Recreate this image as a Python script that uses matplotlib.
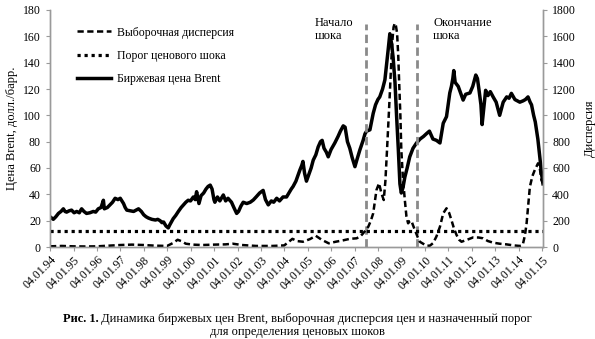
import numpy as np
import matplotlib
matplotlib.use("Agg")
import matplotlib.pyplot as plt

plt.rcParams['font.family'] = ['Liberation Serif', 'DejaVu Serif']
plt.rcParams['font.size'] = 8.5

# Brent price, USD/bbl (time in fractional years)
price_t = [1994.00, 1994.07, 1994.14, 1994.25, 1994.36, 1994.47, 1994.57, 1994.64, 1994.71, 1994.82,
           1994.92, 1995.03, 1995.14, 1995.25, 1995.35, 1995.45, 1995.56, 1995.70, 1995.85, 1995.95,
           1996.06, 1996.18, 1996.28, 1996.32, 1996.45, 1996.56, 1996.67, 1996.78, 1996.90, 1997.00,
           1997.07, 1997.14, 1997.21, 1997.28, 1997.42, 1997.57, 1997.68, 1997.78, 1997.90, 1998.00,
           1998.10, 1998.20, 1998.35, 1998.50, 1998.60, 1998.70, 1998.78, 1998.85, 1998.95, 1999.05,
           1999.12, 1999.26, 1999.37, 1999.48, 1999.60, 1999.70, 1999.80, 1999.90, 2000.00, 2000.12,
           2000.20, 2000.26, 2000.36, 2000.45, 2000.56, 2000.66, 2000.75, 2000.84, 2000.92, 2001.00,
           2001.04, 2001.15, 2001.25, 2001.40, 2001.50, 2001.60, 2001.75, 2001.85, 2001.97, 2002.05,
           2002.15, 2002.25, 2002.40, 2002.55, 2002.68, 2002.80, 2002.95, 2003.10, 2003.20, 2003.32,
           2003.45, 2003.55, 2003.68, 2003.80, 2003.95, 2004.10, 2004.20, 2004.30, 2004.38, 2004.50,
           2004.60, 2004.67, 2004.75, 2004.80, 2004.87, 2004.95, 2005.05, 2005.15, 2005.24, 2005.35,
           2005.45, 2005.55, 2005.62, 2005.70, 2005.80, 2005.88, 2006.00, 2006.16, 2006.30, 2006.40,
           2006.52, 2006.60, 2006.70, 2006.80, 2006.90, 2007.02, 2007.10, 2007.23, 2007.37, 2007.45,
           2007.52, 2007.66, 2007.80, 2007.90, 2008.00, 2008.08, 2008.20, 2008.30, 2008.38, 2008.44,
           2008.51, 2008.58, 2008.65, 2008.73, 2008.80, 2008.87, 2008.94, 2009.00, 2009.07, 2009.15,
           2009.25, 2009.36, 2009.50, 2009.65, 2009.80, 2009.95, 2010.07, 2010.20, 2010.35, 2010.50,
           2010.65, 2010.79, 2010.93, 2011.07, 2011.14, 2011.20, 2011.24, 2011.30, 2011.43, 2011.55,
           2011.64, 2011.75, 2011.93, 2012.05, 2012.18, 2012.25, 2012.32, 2012.40, 2012.45, 2012.52,
           2012.60, 2012.70, 2012.80, 2012.92, 2013.05, 2013.20, 2013.35, 2013.50, 2013.60, 2013.70,
           2013.85, 2014.06, 2014.20, 2014.30, 2014.41, 2014.50, 2014.56, 2014.65, 2014.72, 2014.77,
           2014.83, 2014.88, 2014.94, 2014.98, 2015.02, 2015.05]
price_v = [23, 22, 21, 23, 25.5, 27, 29, 27, 26.5, 27.5,
           28, 26, 27, 26, 29, 27, 25.5, 26, 27, 26.5,
           29, 30, 35.5, 29, 30, 32, 34, 37, 36, 37,
           35, 33, 30, 28, 27.5, 27, 28, 29, 27, 24.5,
           23, 22, 21, 20.5, 21, 20, 18.5, 19, 16, 14.5,
           17, 21.5, 24, 27, 30, 32, 34, 35.5, 35, 38,
           36, 42, 33, 39, 41, 44, 46, 47, 44, 36,
           34, 38, 35, 39.5, 35, 37, 34, 30, 25.5, 27,
           31, 34, 33, 34, 35.7, 38, 41, 43, 36, 32,
           35, 34, 37, 35, 38, 38, 41, 44, 46, 50,
           55, 58.5, 62, 65, 56, 50, 55, 60, 66, 70,
           76, 80, 81, 75, 72, 68.5, 74, 79, 84, 88,
           92, 91, 80, 75, 68, 61, 66, 73.7, 81, 86,
           88, 89, 101.5, 108, 112, 114, 120, 127, 140, 150,
           162, 155, 144, 125, 99, 75, 48, 41, 45, 53,
           60, 68.5, 75, 79, 82, 84, 86, 88, 82, 81,
           79, 94, 99, 117, 122, 128, 134, 125, 122, 116,
           111.6, 116, 117, 122, 130.6, 128, 119, 108, 93, 105,
           119, 115, 118, 114, 110, 100, 110, 114, 113, 116.7,
           112, 110, 111, 112, 114, 110, 108, 100, 95, 89,
           82, 74, 64, 56, 52, 48]

# sample variance of price (right axis)
var_t = [1994.00, 1994.50, 1995.00, 1995.50, 1996.00, 1996.50, 1997.00, 1997.50, 1998.00, 1998.50,
         1999.00, 1999.25, 1999.45, 1999.60, 1999.80, 2000.10, 2000.50, 2001.00, 2001.50, 2001.80,
         2002.20, 2002.80, 2003.50, 2004.00, 2004.20, 2004.35, 2004.55, 2004.80, 2005.10, 2005.35,
         2005.60, 2005.90, 2006.20, 2006.50, 2006.80, 2007.09, 2007.25, 2007.37, 2007.49, 2007.59,
         2007.70, 2007.80, 2007.94, 2008.05, 2008.15, 2008.25, 2008.32, 2008.39, 2008.45, 2008.51,
         2008.57, 2008.62, 2008.67, 2008.72, 2008.77, 2008.82, 2008.87, 2008.91, 2008.96, 2009.00,
         2009.07, 2009.15, 2009.22, 2009.29, 2009.36, 2009.43, 2009.50, 2009.58, 2009.70, 2009.79,
         2009.93, 2010.07, 2010.22, 2010.36, 2010.50, 2010.65, 2010.79, 2010.93, 2011.04, 2011.14,
         2011.25, 2011.36, 2011.47, 2011.57, 2011.78, 2012.07, 2012.30, 2012.49, 2012.70, 2012.92,
         2013.20, 2013.49, 2013.80, 2014.06, 2014.15, 2014.20, 2014.28, 2014.35, 2014.42, 2014.49,
         2014.60, 2014.70, 2014.84, 2014.92, 2014.98, 2015.05]
var_v = [5, 8, 5, 4, 5, 10, 15, 18, 15, 10,
         8, 30, 55, 45, 25, 18, 15, 18, 20, 25,
         15, 8, 8, 12, 40, 62, 45, 40, 60, 85,
         55, 28, 40, 50, 62, 66, 80, 104, 130, 154,
         200, 256, 433, 484, 408, 357, 500, 737, 950, 1167,
         1400, 1572, 1670, 1699, 1680, 1623, 1450, 1243, 1000, 737,
         520, 357, 230, 180, 195, 200, 165, 129, 75, 40,
         25, 10, 10, 30, 80, 154, 256, 294, 260, 205,
         140, 91, 55, 40, 53, 73, 72, 66, 45, 33,
         25, 20, 12, 8, 12, 28, 90, 180, 320, 458,
         540, 585, 636, 590, 509, 484]

threshold = 120
shock_start = 2007.49
shock_end = 2009.65

years = list(range(1994, 2016))
year_labels = ['04.01.%02d' % (y % 100) for y in years]

fig = plt.figure(figsize=(5.95, 3.39), dpi=100)
ax = fig.add_axes([50/595, 1-247/339, 493/595, 237/339])
ax2 = ax.twinx()

ln_p, = ax.plot(price_t, price_v, color='black', lw=2.5, label='Биржевая цена Brent')
ln_v, = ax2.plot(var_t, var_v, color='black', lw=1.8, ls=(0, (2.5, 1.4)),
                 label='Выборочная дисперсия')
ln_t, = ax2.plot([1994.0, 2015.05], [threshold, threshold], color='black', lw=2.3,
                 ls=(0, (1, 1.2)), label='Порог ценового шока')

for xv in (shock_start, shock_end):
    ax.axvline(xv, ymin=0, ymax=0.94, color='#8a8a8a', lw=2, ls=(0, (3, 1.6)))

ax.text(2005.3, 175, 'Начало\nшока', va='top', ha='left', fontsize=9, linespacing=1.15)
ax.text(2010.36, 175, 'Окончание\nшока', va='top', ha='left', fontsize=9, linespacing=1.15)

ax.set_xlim(1994.0, 2015.05)
ax.set_ylim(0, 180)
ax2.set_ylim(0, 1800)
ax.set_yticks(range(0, 181, 20))
ax2.set_yticks(range(0, 1801, 200))
ax.set_xticks([y + 3/365 for y in years])
ax.set_xticklabels(year_labels, rotation=45, ha='right', rotation_mode='anchor')

for a in (ax, ax2):
    a.spines['top'].set_visible(False)
    for s in ('left', 'right', 'bottom'):
        a.spines[s].set_color('#9a9a9a')
        a.spines[s].set_linewidth(1.0)
    a.tick_params(colors='#9a9a9a', labelcolor='black', length=3, width=0.8, labelsize=8.5)
ax.tick_params(axis='x', pad=2)

ax.set_ylabel('Цена Brent, долл./барр.', fontsize=9, labelpad=4)
ax2.set_ylabel('Дисперсия', fontsize=9, labelpad=6)

ax.legend(handles=[ln_v, ln_t, ln_p], loc='upper left', bbox_to_anchor=(0.045, 0.95),
          frameon=False, handlelength=2.9, handletextpad=0.5, labelspacing=0.95,
          borderaxespad=0, fontsize=8.5)

# two-line caption; "Рис. 1." in bold
r = fig.canvas.get_renderer()
bold = 'Рис. 1.'
rest = ' Динамика биржевых цен Brent, выборочная дисперсия цен и назначенный порог'
tb = fig.text(0, 0, bold, fontsize=9, fontweight='bold')
tr = fig.text(0, 0, rest, fontsize=9)
wb = tb.get_window_extent(r).width
wr = tr.get_window_extent(r).width
x0 = (595 - wb - wr) / 2
tb.set_position((x0 / 595, 1 - 322/339))
tr.set_position(((x0 + wb) / 595, 1 - 322/339))
fig.text(0.5, 1 - 335/339, 'для определения ценовых шоков', fontsize=9, ha='center')

fig.savefig('out.png', dpi=100)
